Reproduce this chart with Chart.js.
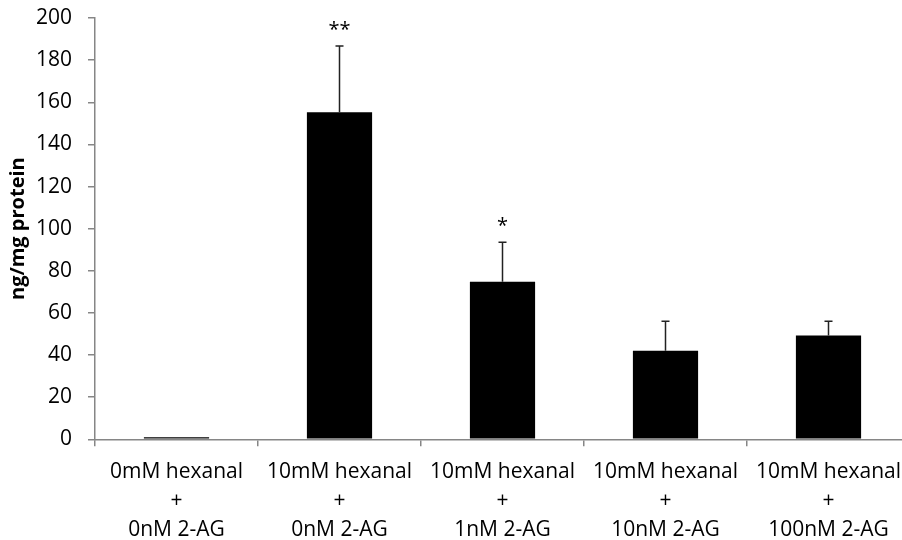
<!DOCTYPE html>
<html>
<head>
<meta charset="utf-8">
<script src="https://cdn.jsdelivr.net/npm/chart.js@4.4.0/dist/chart.umd.min.js"></script>
<style>
  html, body { margin: 0; padding: 0; background: #fff; overflow: hidden; }
  #wrap { width: 902px; height: 540px; overflow: hidden; position: relative; }
  #box { width: 912px; height: 540px; position: absolute; left: 0; top: 0; }
</style>
</head>
<body>
<div id="wrap"><div id="box"><canvas id="c"></canvas></div></div>
<script>
const categories = [
  ['0mM hexanal', '+', '0nM 2-AG'],
  ['10mM hexanal', '+', '0nM 2-AG'],
  ['10mM hexanal', '+', '1nM 2-AG'],
  ['10mM hexanal', '+', '10nM 2-AG'],
  ['10mM hexanal', '+', '100nM 2-AG']
];
const values = [1.0, 155.3, 74.8, 42.0, 49.3];
const errors = [0, 31.4, 18.8, 14.0, 6.7];
const significance = ['', '**', '*', '', ''];
const yTicks = [0, 20, 40, 60, 80, 100, 120, 140, 160, 180, 200];

const FONT = '"Open Sans"';
const AXIS = '#868686';

const errorPlugin = {
  id: 'errorBars',
  afterDatasetsDraw(chart) {
    const ctx = chart.ctx;
    const meta = chart.getDatasetMeta(0);
    const y = chart.scales.y;
    ctx.save();
    meta.data.forEach((bar, i) => {
      const x = bar.x;
      const yTop = y.getPixelForValue(values[i]);
      const yErr = y.getPixelForValue(values[i] + errors[i]);
      if (errors[i] > 0) {
        ctx.strokeStyle = '#222';
        ctx.lineWidth = 1.5;
        ctx.beginPath();
        ctx.moveTo(x, yTop);
        ctx.lineTo(x, yErr);
        ctx.moveTo(x - 4, yErr);
        ctx.lineTo(x + 4, yErr);
        ctx.stroke();
      }
      if (significance[i]) {
        ctx.fillStyle = '#000';
        ctx.font = '20px ' + FONT;
        ctx.textAlign = 'center';
        ctx.textBaseline = 'alphabetic';
        ctx.fillText(significance[i], x, yErr - 10);
      }
    });
    ctx.restore();
  }
};

new Chart(document.getElementById('c'), {
  type: 'bar',
  data: {
    labels: categories,
    datasets: [{
      data: values,
      backgroundColor: '#000',
      borderWidth: 0,
      barPercentage: 0.8,
      categoryPercentage: 0.5
    }]
  },
  options: {
    responsive: true,
    maintainAspectRatio: false,
    animation: false,
    layout: { padding: { left: 0, right: 2, top: 18, bottom: 0 } },
    plugins: { legend: { display: false }, tooltip: { enabled: false } },
    scales: {
      x: {
        grid: { drawOnChartArea: false, drawTicks: true, tickLength: 7, color: AXIS, lineWidth: 1.5, offset: true },
        border: { display: true, color: AXIS, width: 1.5 },
        ticks: { color: '#000', font: { family: FONT, size: 21, lineHeight: 1.38 }, padding: 11, maxRotation: 0, autoSkip: false },
        afterFit(s) { s.height = 100.7; s.paddingLeft = 0; s.paddingRight = 0; }
      },
      y: {
        min: 0, max: 200,
        afterBuildTicks(s) { s.ticks = yTicks.map(v => ({ value: v })); },
        grid: { drawOnChartArea: false, drawTicks: true, tickLength: 7, color: AXIS, lineWidth: 1.5 },
        border: { display: true, color: AXIS, width: 1.5 },
        ticks: { color: '#000', font: { family: FONT, size: 21 }, padding: 16 },
        title: { display: true, text: 'ng/mg protein', color: '#000', font: { family: FONT, size: 20, weight: 'bold' }, padding: { top: 6, bottom: 0 } },
        afterFit(s) { s.width = 95; s.paddingTop = 0; s.paddingBottom = 0; }
      }
    }
  },
  plugins: [errorPlugin]
});
</script>
</body>
</html>
